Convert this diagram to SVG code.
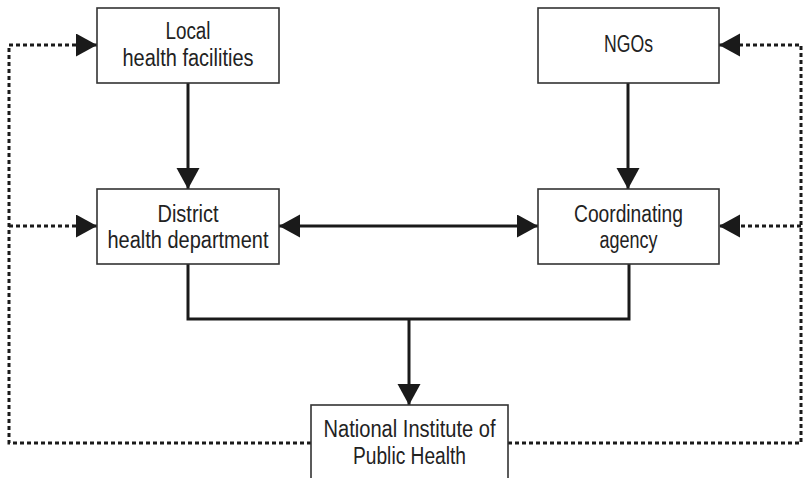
<svg xmlns="http://www.w3.org/2000/svg" width="803" height="478" viewBox="0 0 803 478">
<style>
.box{fill:#fff;stroke:#333;stroke-width:1.6}
.t{font-family:"Liberation Sans",Arial,sans-serif;font-size:23px;fill:#222;text-anchor:middle}
.solid{fill:none;stroke:#1a1a1a;stroke-width:3}
.dot{fill:none;stroke:#1a1a1a;stroke-width:3;stroke-dasharray:4 3}
</style>
<defs>
<marker id="ah" markerUnits="userSpaceOnUse" markerWidth="22" markerHeight="24" refX="21" refY="11.5" orient="auto-start-reverse" viewBox="0 0 22 24">
<path d="M0,0 L21,11.5 L0,23 z" fill="#1a1a1a"/>
</marker>
</defs>
<g id="connectors">
<line class="solid" x1="188" y1="83" x2="188" y2="189" marker-end="url(#ah)"/>
<line class="solid" x1="628" y1="83" x2="628" y2="189" marker-end="url(#ah)"/>
<line class="solid" x1="279" y1="226" x2="538" y2="226" marker-start="url(#ah)" marker-end="url(#ah)"/>
<polyline class="solid" points="188,264 188,319 629,319 629,264"/>
<line class="solid" x1="409" y1="319" x2="409" y2="405" marker-end="url(#ah)"/>
<polyline class="dot" points="311,443 9,443 9,45 97,45" marker-end="url(#ah)"/>
<line class="dot" x1="9" y1="226" x2="97" y2="226" marker-end="url(#ah)"/>
<polyline class="dot" points="508,443 801,443 801,45 719,45" marker-end="url(#ah)"/>
<line class="dot" x1="801" y1="226" x2="719" y2="226" marker-end="url(#ah)"/>
</g>
<g id="local">
<rect class="box" x="97" y="8" width="182" height="75"/>
<text class="t" x="188" y="39" textLength="45" lengthAdjust="spacingAndGlyphs">Local</text>
<text class="t" x="188" y="66" textLength="131" lengthAdjust="spacingAndGlyphs">health facilities</text>
</g>
<g id="ngos">
<rect class="box" x="538" y="8" width="181" height="75"/>
<text class="t" x="628.5" y="52" textLength="49" lengthAdjust="spacingAndGlyphs">NGOs</text>
</g>
<g id="district">
<rect class="box" x="97" y="189" width="182" height="75"/>
<text class="t" x="188" y="222" textLength="61" lengthAdjust="spacingAndGlyphs">District</text>
<text class="t" x="188" y="248" textLength="161" lengthAdjust="spacingAndGlyphs">health department</text>
</g>
<g id="coordinating">
<rect class="box" x="538" y="189" width="181" height="75"/>
<text class="t" x="628.5" y="222" textLength="109" lengthAdjust="spacingAndGlyphs">Coordinating</text>
<text class="t" x="628.5" y="248" textLength="58" lengthAdjust="spacingAndGlyphs">agency</text>
</g>
<g id="niph">
<rect class="box" x="311" y="405" width="197" height="80"/>
<text class="t" x="409.5" y="437" textLength="172" lengthAdjust="spacingAndGlyphs">National Institute of</text>
<text class="t" x="409.5" y="464" textLength="113" lengthAdjust="spacingAndGlyphs">Public Health</text>
</g>
</svg>
